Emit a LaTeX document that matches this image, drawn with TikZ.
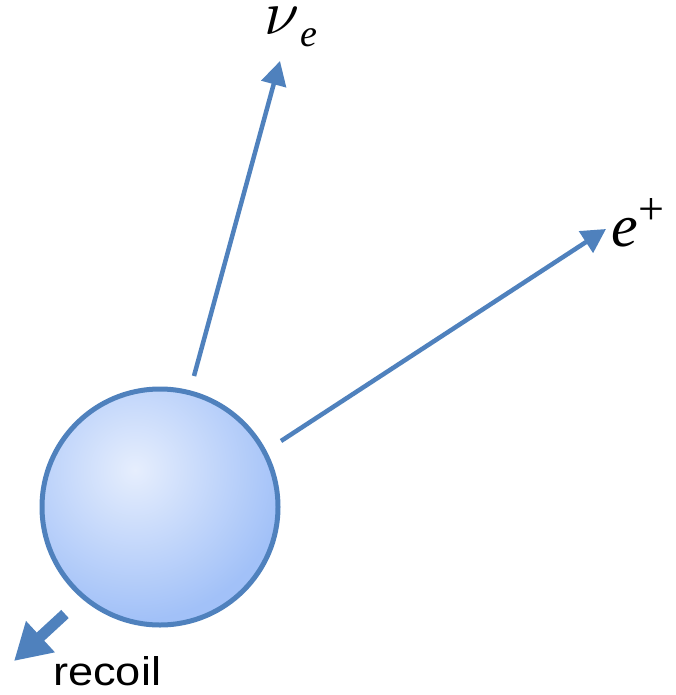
\documentclass[tikz,border=0pt]{standalone}
\usepackage{amsmath}
\usepackage{graphicx}
\usepackage{fontspec}
\setmainfont{Liberation Serif}
\newfontfamily\labelsans{Liberation Sans}
\usetikzlibrary{arrows.meta}
\definecolor{edgeblue}{HTML}{4F81BD}
\definecolor{ballout}{HTML}{A2C1F8}
\definecolor{ballin}{HTML}{E6EEFD}
\tikzset{
  particle/.style={draw=edgeblue, line width=4.5pt, -{Triangle[length=24pt,width=25pt]}},
  recoilarrow/.style={draw=edgeblue, line width=11pt, -{Triangle[length=36pt,width=40pt]}},
  lab/.style={inner sep=0pt, anchor=base west}
}
\begin{document}
\begin{tikzpicture}[x=1pt,y=-1pt]
\useasboundingbox (0,0) rectangle (676,695);
% ball
\node[circle, minimum size=236pt, inner sep=0pt] (ball) at (160,507) {};
\begin{scope}
  \clip (ball.center) circle (118pt);
  \fill[ballout] (ball.center) circle (118pt);
  \shade[inner color=ballin, outer color=ballout] (135,470) circle (150pt);
\end{scope}
\draw[edgeblue, line width=5pt] (ball.center) circle (118pt);
% coordinates
\coordinate (nustart) at (194,376);
\coordinate (nuend) at (280,61);
\coordinate (estart) at (281,441);
\coordinate (eend) at (606,229);
\coordinate (rstart) at (65,614);
\coordinate (rend) at (14,661);
\draw[particle] (nustart) -- (nuend);
\draw[particle] (estart) -- (eend);
\draw[recoilarrow] (rstart) -- (rend);
% labels
\node[lab] (nulab) at (264,35) {\scalebox{6.3}{\normalsize$\nu$}\hspace{1pt}\raisebox{-12pt}{\fontsize{38}{40}\selectfont\itshape e}};
\node[lab, font=\fontsize{60}{64}\selectfont\itshape] (elab) at (611,246) {e\hspace{1pt}\raisebox{0.36em}{\fontsize{46}{48}\selectfont\upshape +}};
\node[lab, font=\fontsize{40}{44}\selectfont\labelsans] (rlab) at (53,685) {\scalebox{1.13}[1]{recoil}};
\end{tikzpicture}
\end{document}
